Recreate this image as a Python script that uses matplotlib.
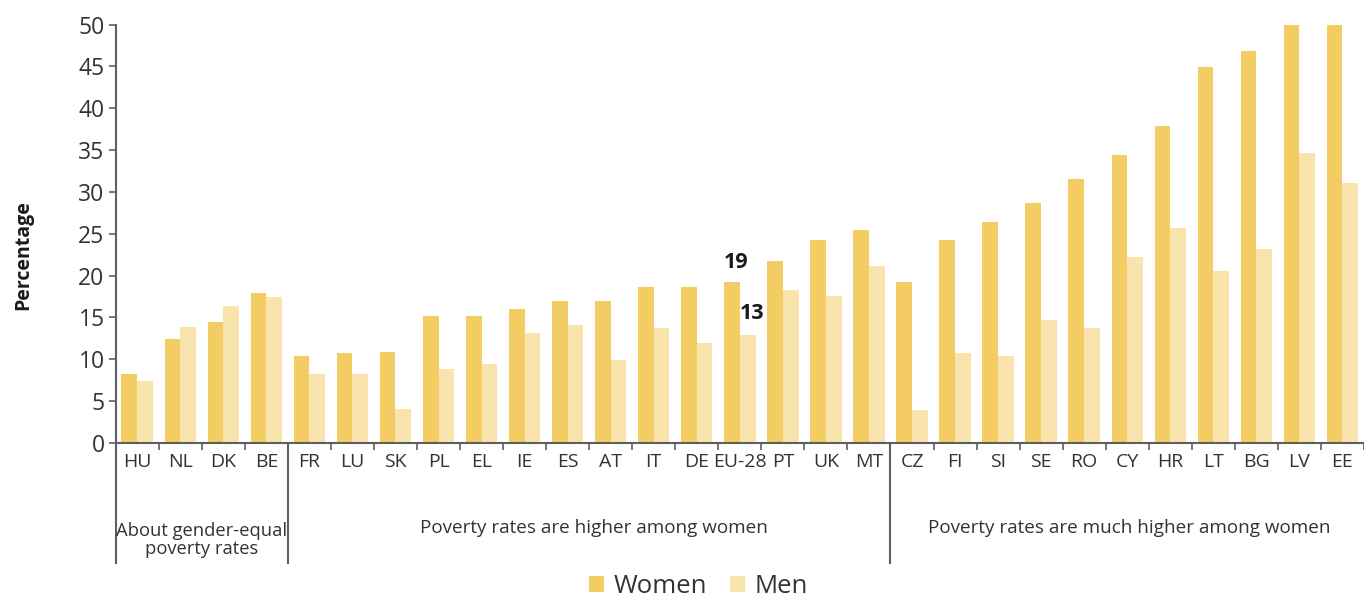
import matplotlib
matplotlib.use("Agg")
import matplotlib.pyplot as plt
import numpy as np

plt.rcParams['font.family'] = ['Open Sans', 'DejaVu Sans']

countries = ["HU", "NL", "DK", "BE", "FR", "LU", "SK", "PL", "EL", "IE", "ES", "AT", "IT", "DE",
             "EU-28", "PT", "UK", "MT", "CZ", "FI", "SI", "SE", "RO", "CY", "HR", "LT", "BG", "LV", "EE"]
women = [8.2, 12.4, 14.4, 17.9, 10.4, 10.7, 10.9, 15.2, 15.2, 16.0, 17.0, 17.0, 18.7, 18.7,
         19.2, 21.7, 24.2, 25.4, 19.2, 24.2, 26.4, 28.7, 31.6, 34.4, 37.9, 44.9, 46.9, 50.0, 50.0]
men = [7.4, 13.9, 16.4, 17.4, 8.2, 8.2, 4.1, 8.9, 9.4, 13.2, 14.1, 9.9, 13.7, 11.9,
       12.9, 18.3, 17.6, 21.1, 3.9, 10.7, 10.4, 14.7, 13.7, 22.2, 25.7, 20.6, 23.2, 34.6, 31.1]
groups = ["About gender-equal\npoverty rates", "Poverty rates are higher among women",
          "Poverty rates are much higher among women"]
group_sizes = [4, 14, 11]
eu_labels = ["19", "13"]
yticks = [0, 5, 10, 15, 20, 25, 30, 35, 40, 45, 50]

c_women = "#F3CC63"
c_men = "#F9E4AE"
axis_col = "#5f5f5f"
text_col = "#333333"

fig = plt.figure(figsize=(13.64, 6.0), dpi=100)
ax = fig.add_axes([0.0848, 0.2617, 0.9152, 0.959 - 0.2617])

x = np.arange(len(countries))
w = 0.365
ax.bar(x - w / 2, women, width=w, color=c_women, label="Women", zorder=2)
ax.bar(x + w / 2, men, width=w, color=c_men, label="Men", zorder=2)

ax.set_xlim(-0.5, 28.36)
ax.set_ylim(0, 50)
ax.set_yticks(yticks)
ax.tick_params(axis='y', labelsize=16.5, length=5, width=1.2, color=axis_col, labelcolor=text_col, pad=3)

ax.set_xticks(x)
ax.set_xticklabels(countries)
ax.tick_params(axis='x', which='major', length=0, labelsize=14, labelcolor=text_col, pad=7)
ax.set_xticks(np.arange(len(countries)) + 0.5, minor=True)
ax.tick_params(axis='x', which='minor', length=5, width=1.2, color=axis_col)

for s in ['top', 'right']:
    ax.spines[s].set_visible(False)
for s in ['left', 'bottom']:
    ax.spines[s].set_color(axis_col)
    ax.spines[s].set_linewidth(1.5)

ax.set_ylabel("Percentage", fontsize=14, fontweight='bold', color="#1a1a1a")
ax.yaxis.set_label_coords(-0.066, 0.45)

# group separators and labels
trans = ax.get_xaxis_transform()
start = 0
bounds = [-0.5]
for k, (gname, gs) in enumerate(zip(groups, group_sizes)):
    end = start + gs
    bounds.append(end - 0.5)
    center = (start - 0.5 + min(end - 0.5, 28.36)) / 2
    if k == 0:
        ax.text(center, -0.232, gname, transform=trans, ha='center', va='center',
                fontsize=13.2, color=text_col, linespacing=1.05)
    else:
        ax.text(center + 0.12, -0.203, gname, transform=trans, ha='center', va='center',
                fontsize=13.6, color=text_col)
    start = end
for b in bounds[:-1]:
    ax.plot([b, b], [0, -0.287], transform=trans, color=axis_col, lw=1.5, clip_on=False)

# EU-28 annotations
i_eu = countries.index("EU-28")
ax.text(i_eu - w / 2 + 0.1, women[i_eu] + 2.4, eu_labels[0], ha='center', va='center',
        fontsize=15.5, fontweight='bold', color="#1a1a1a")
ax.text(i_eu + 0.285, men[i_eu] + 2.6, eu_labels[1], ha='center', va='center',
        fontsize=15.5, fontweight='bold', color="#1a1a1a")

fig.legend(loc='center', bbox_to_anchor=(0.512, 0.022), ncol=2, frameon=False,
           fontsize=18.5, handlelength=0.6, handleheight=0.6, handletextpad=0.35,
           columnspacing=0.9, labelcolor=text_col, borderpad=0.2)

fig.savefig("out.png", dpi=100)
